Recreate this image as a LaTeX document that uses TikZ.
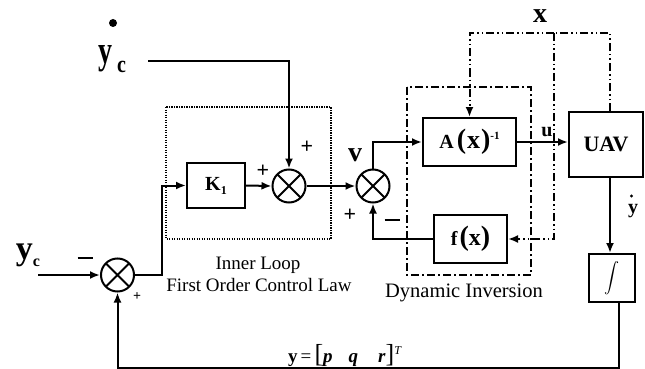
\documentclass[tikz,border=0pt]{standalone}
\usepackage{fontspec}
\usepackage{graphicx}
\setmainfont{Liberation Serif}
\usetikzlibrary{arrows.meta,calc}
\begin{document}
\begin{tikzpicture}[x=1pt,y=-1pt,
  line width=2pt,
  arr/.style={-{Latex[length=10pt,width=8pt]}},
  blk/.style={draw, line width=2pt, inner sep=0pt, font=\fontsize{20}{22}\selectfont\bfseries},
  summer/.style={draw, circle, line width=2pt, minimum size=33pt, inner sep=0pt,
    path picture={\draw[line width=2pt] (path picture bounding box.north west) -- (path picture bounding box.south east)
      (path picture bounding box.north east) -- (path picture bounding box.south west);}},
  lbl/.style={font=\fontsize{19}{21}\selectfont, inner sep=0pt},
  sgn/.style={font=\fontsize{22}{22}\selectfont\bfseries, inner sep=0pt},
  xloop/.style={line width=2pt, dash pattern=on 8pt off 3pt on 1.5pt off 3pt on 1.5pt off 3pt},
  dibox/.style={line width=2pt, dash pattern=on 8pt off 3pt on 2pt off 3pt},
  inbox/.style={line width=2pt, dash pattern=on 1.2pt off 1.3pt},
]
\useasboundingbox (0,0) rectangle (645,369);

% frames
\draw[inbox] (166,107) rectangle (331,239);
\draw[dibox] (407,87) rectangle (531,275);

% summers
\node[summer] (S1) at (117.5,275) {};
\node[summer] (S2) at (289,186) {};
\node[summer] (S3) at (373,186) {};

% blocks
\node[blk, minimum width=58pt, minimum height=45pt] (K) at (216,185.5) {K\raisebox{-4pt}{\fontsize{12}{12}\selectfont 1}};
\node[blk, minimum width=93pt, minimum height=48pt] (A) at (469.5,142)
  {A\hspace{3pt}{\fontsize{28}{28}\selectfont(}\hspace{1pt}{\fontsize{26}{26}\selectfont x}\hspace{1pt}{\fontsize{28}{28}\selectfont)}\raisebox{9pt}{\fontsize{11}{11}\selectfont -1}};
\node[blk, minimum width=73pt, minimum height=48pt] (f) at (470.5,239)
  {f\hspace{2pt}{\fontsize{28}{28}\selectfont(}{\fontsize{24}{24}\selectfont x}{\fontsize{28}{28}\selectfont)}};
\node[blk, minimum width=74pt, minimum height=65pt, font=\fontsize{22}{22}\selectfont\bfseries] (UAV) at (606,144.5) {UAV};
\node[blk, minimum width=46pt, minimum height=48pt] (I) at (612,278) {\scalebox{1.5}{$\displaystyle\int$}};

% coordinates
\coordinate (ycin) at (38,275);
\coordinate (ydin) at (148,61);
\coordinate (c1) at (162,275);
\coordinate (xt) at (554,33);
\coordinate (ut) at (610,33);

% connectors
\draw[arr] (ycin) -- (S1.west);
\draw[arr] (S1.east) -- (c1) |- (K.west);
\draw[arr] (K.east) -- (S2.west);
\draw[arr] (ydin) -| (S2.north);
\draw[arr] (S2.east) -- (S3.west);
\draw[arr] (S3.north) |- (A.west);
\draw[arr] (A.east) -- (A.east -| UAV.west);
\draw[arr] ([xshift=4pt]UAV.south) -- ([xshift=4pt]UAV.south |- I.north);
\draw[arr] (f.west) -| (S3.south);
\draw[arr] ([xshift=7pt]I.south) -- ++(0,65) -| (S1.south);
\draw[xloop] ([xshift=4pt]UAV.north) -- (ut) -- (xt);
\draw[xloop,arr] (xt) -| (A.north);
\draw[xloop,arr] (xt) |- (f.east);

% signs
\node[sgn] (p1) at (307,147) {+};
\node[sgn] (p2) at (263,171) {+};
\node[sgn] (p3) at (350,215) {+};
\node[inner sep=0pt] (m3) at (392,220) {\rule{15pt}{2.8pt}};
\node[inner sep=0pt] (m1) at (85,258) {\rule{15pt}{2.8pt}};
\node[sgn, font=\fontsize{14}{14}\selectfont\bfseries] (p4) at (137,297) {+};

% signal labels
\node[inner sep=0pt, font=\fontsize{28}{28}\selectfont\bfseries] (v) at (355,155) {v};
\node[inner sep=0pt, font=\fontsize{20}{20}\selectfont\bfseries] (u) at (547,132) {u};
\node[inner sep=0pt, font=\fontsize{28}{28}\selectfont\bfseries] (xl) at (540,16) {x};
\node[inner sep=0pt, anchor=base west, font=\fontsize{20}{20}\selectfont\bfseries] (yd) at (627,213.6) {y};
\fill (631.5,196) circle[radius=1.7pt];

% y_c dot (top)
\fill (113,23) circle[radius=4pt];
\node[inner sep=0pt, anchor=base west] (ydc) at (97,63.5)
  {\scalebox{1}[1.4]{\fontsize{28}{28}\selectfont\bfseries y}\hspace{5pt}\raisebox{-9pt}{\scalebox{1}[1.2]{\fontsize{20}{20}\selectfont\bfseries c}}};
\node[inner sep=0pt, anchor=base west] (yc) at (15,259.5)
  {{\fontsize{34}{34}\selectfont\bfseries y}\raisebox{-6.5pt}{\fontsize{16}{16}\selectfont\bfseries c}};

% texts
\node[lbl] (il) at (258,265) {Inner Loop};
\node[lbl] (fo) at (259,285) {First Order Control Law};
\node[lbl, font=\fontsize{20.5}{22}\selectfont] (di) at (464,293) {Dynamic Inversion};
\node[inner sep=0pt, anchor=base west, font=\fontsize{19}{19}\selectfont] (yv) at (287,362)
  {\textbf{y}\,=\,{\fontsize{26}{26}\selectfont[}\textbf{\textit{p}}\hspace{16pt}\textbf{\textit{q}}\hspace{20pt}\textbf{\textit{r}}{\fontsize{26}{26}\selectfont]}\raisebox{8pt}{\fontsize{12}{12}\selectfont\textit{T}}};
\end{tikzpicture}
\end{document}
